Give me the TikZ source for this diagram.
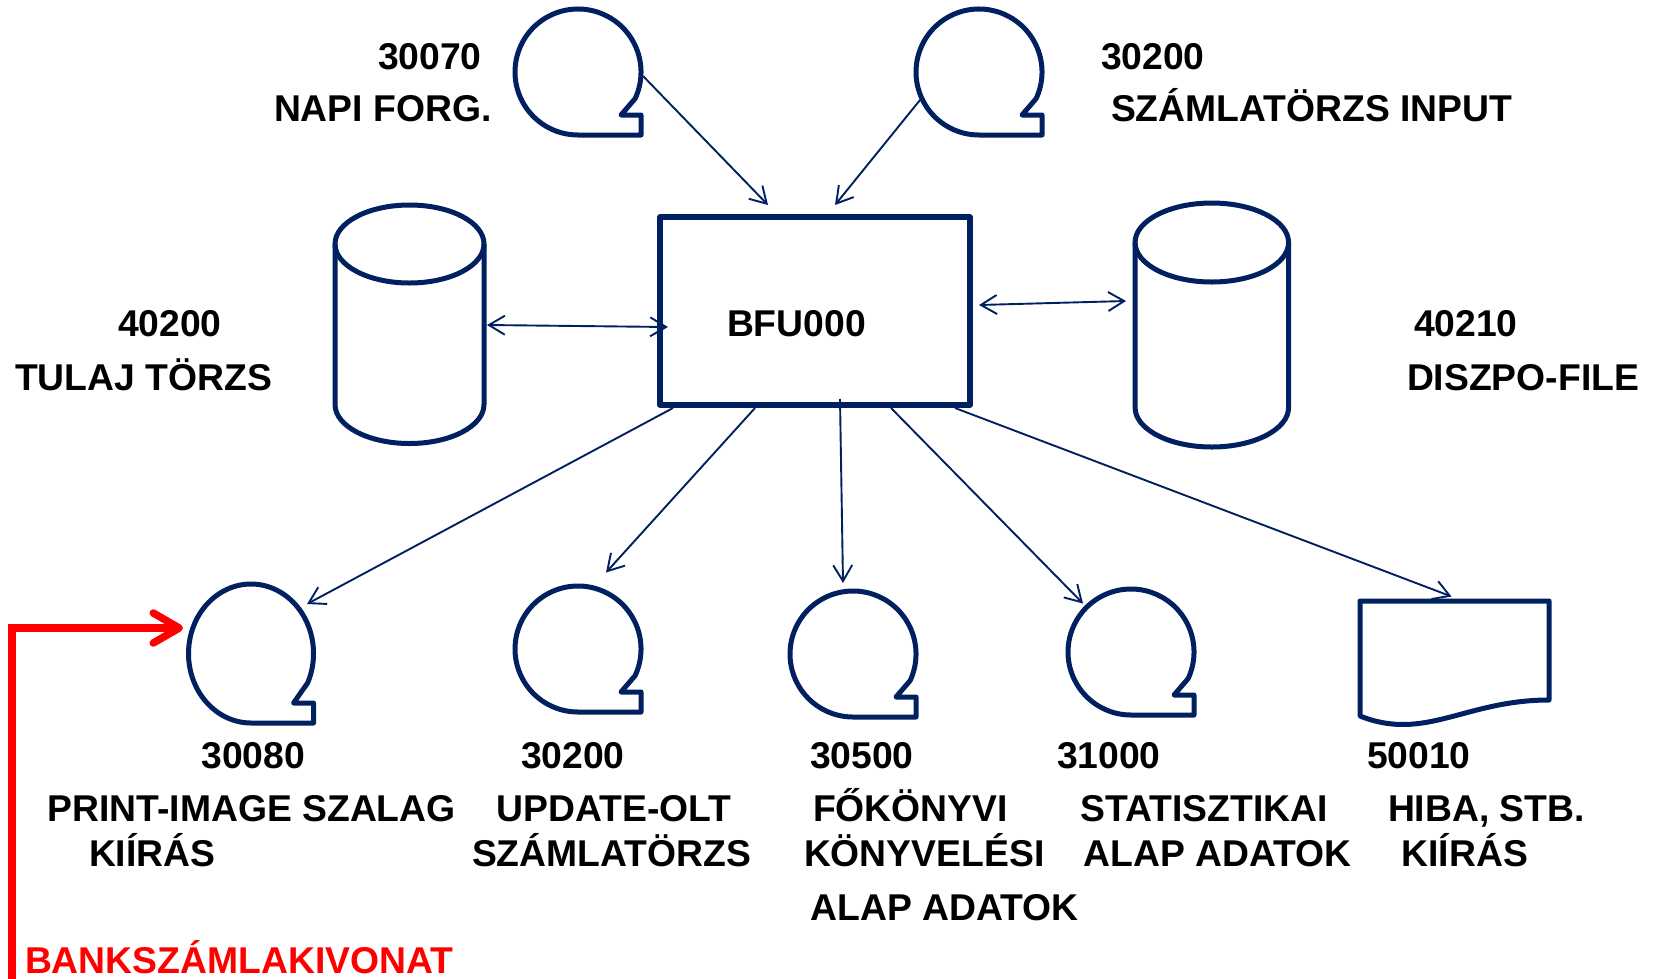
\documentclass[tikz,border=0pt]{standalone}
\usepackage{fontspec}
\setmainfont{Liberation Sans}
\usetikzlibrary{arrows.meta,calc,shapes.geometric}
\definecolor{navyblue}{HTML}{002060}
\newcommand\tapedraw[3]{%
  \draw[shapeline] ($(#1.center)+({#2*cos(-25)},{#3*sin(-25)})$)
    arc[start angle=-25,end angle=270,x radius=#2pt,y radius=#3pt]
    -- ++(#2,0) -- ++(0,20) -- ++(-20,0) -- cycle;}
\newcommand\cyldraw[3]{%
  \draw[shapeline] ($(#1.north)+(0,-#3)$) ellipse[x radius=#2pt,y radius=#3pt];
  \draw[shapeline] ($(#1.north west)+(0,-#3)$) -- ($(#1.south west)+(0,#3)$)
    arc[start angle=180,end angle=360,x radius=#2pt,y radius=#3pt]
    -- ($(#1.north east)+(0,-#3)$);}
\begin{document}
\begin{tikzpicture}[x=1pt,y=1pt,
  shapeline/.style={draw=navyblue,line width=5pt,line join=round},
  conn/.style={draw=navyblue,line width=1.9pt,-{Straight Barb[length=16pt,width=19pt]}},
  dconn/.style={draw=navyblue,line width=1.9pt,{Straight Barb[length=16pt,width=19pt]}-{Straight Barb[length=16pt,width=19pt]}},
  lbl/.style={anchor=base west,inner sep=0pt,outer sep=0pt,font=\fontsize{37.3}{40}\selectfont\bfseries,text=black},
  tapenode/.style={ellipse,draw=none,inner sep=0pt,outer sep=0pt},
  hold/.style={rectangle,draw=none,inner sep=0pt,outer sep=0pt},
  boxnode/.style={rectangle,draw=navyblue,line width=5.5pt,line join=round,inner sep=0pt,outer sep=0pt},
  redarrow/.style={draw=red,line width=7.5pt,-{Straight Barb[length=26pt,width=30pt,round]}},
]
\useasboundingbox (0,0) rectangle (1653,-978);

% tapes
\node[tapenode,minimum width=126pt,minimum height=126pt] (t1) at (578,-72) {};
\node[tapenode,minimum width=126pt,minimum height=126pt] (t2) at (979,-72) {};
\node[tapenode,minimum width=125pt,minimum height=139pt] (b1) at (251,-653.5) {};
\node[tapenode,minimum width=126pt,minimum height=126pt] (b2) at (578,-649) {};
\node[tapenode,minimum width=126pt,minimum height=126pt] (b3) at (853,-654) {};
\node[tapenode,minimum width=126pt,minimum height=126pt] (b4) at (1131,-652) {};
\tapedraw{t1}{63}{63}
\tapedraw{t2}{63}{63}
\tapedraw{b1}{62.5}{69.5}
\tapedraw{b2}{63}{63}
\tapedraw{b3}{63}{63}
\tapedraw{b4}{63}{63}

% cylinders
\node[hold,minimum width=149pt,minimum height=238.5pt] (cylL) at (409.5,-324.25) {};
\node[hold,minimum width=153.5pt,minimum height=244pt] (cylR) at (1211.8,-325) {};
\cyldraw{cylL}{74.5}{39}
\cyldraw{cylR}{76.75}{39.5}

% program box
\node[boxnode,minimum width=310pt,minimum height=188pt] (box) at (815,-311) {};

% document
\node[hold,minimum width=189pt,minimum height=115pt] (doc) at (1454.5,-658.5) {};
\draw[shapeline] (doc.north west) -- (doc.north east) -- ($(doc.south east)+(0,16)$)
  .. controls ($(doc.south east)+(-84,16)$) and ($(doc.south west)+(65,-26)$) .. (doc.south west) -- cycle;

% labels
\node[lbl] (l1a) at (378,-69) {30070};
\node[lbl] (l1b) at (274,-121) {NAPI FORG.};
\node[lbl] (l2a) at (1101,-69) {30200};
\node[lbl] (l2b) at (1111,-121) {SZÁMLATÖRZS INPUT};
\node[lbl] (l3a) at (118,-336.6) {40200};
\node[lbl] (l3b) at (15,-390.4) {TULAJ TÖRZS};
\node[lbl] (lbox) at (727,-336.7) {BFU000};
\node[lbl] (l4a) at (1414,-336.6) {40210};
\node[lbl] (l4b) at (1407,-390.4) {DISZPO-FILE};

\node[lbl] (n1) at (201.5,-768) {30080};
\node[lbl] (n2) at (521,-768) {30200};
\node[lbl] (n3) at (810,-768) {30500};
\node[lbl] (n4) at (1057,-768) {31000};
\node[lbl] (n5) at (1367,-768) {50010};

\node[lbl] (d1a) at (47.5,-821) {PRINT-IMAGE SZALAG};
\node[lbl] (d2a) at (496.5,-821) {UPDATE-OLT};
\node[lbl] (d3a) at (813,-821) {FŐKÖNYVI};
\node[lbl] (d4a) at (1080.5,-821) {STATISZTIKAI};
\node[lbl] (d5a) at (1388,-821) {HIBA, STB.};

\node[lbl] (d1b) at (89,-866) {KIÍRÁS};
\node[lbl] (d2b) at (472,-866) {SZÁMLATÖRZS};
\node[lbl] (d3b) at (804,-866) {KÖNYVELÉSI};
\node[lbl] (d4b) at (1083.5,-866) {ALAP ADATOK};
\node[lbl] (d5b) at (1401.5,-866) {KIÍRÁS};

\node[lbl] (d3c) at (810.7,-920) {ALAP ADATOK};

\node[lbl,text=red] (bank) at (25,-973) {BANKSZÁMLAKIVONAT};

% connectors
\draw[conn] ([shift={(65,-4)}]t1.center) -- ([xshift=-47pt,yshift=12pt]box.north);
\draw[conn] ([shift={(-59,-28)}]t2.center) -- ([xshift=20pt,yshift=12pt]box.north);
\draw[dconn] ([shift={(3,-0.75)}]cylL.east) -- ([shift={(8,-16)}]box.west);
\draw[dconn] ([shift={(9,6)}]box.east) -- ([shift={(-9,24)}]cylR.west);
\draw[conn] ([shift={(-142,-3)}]box.south) -- ([shift={(56,49.5)}]b1.center);
\draw[conn] ([shift={(-60,-3)}]box.south) -- ([shift={(28,76.5)}]b2.center);
\draw[conn] ([shift={(25,6)}]box.south) -- ([shift={(-10,71)}]b3.center);
\draw[conn] ([shift={(76,-3)}]box.south) -- ([shift={(-48,48.5)}]b4.center);
\draw[conn] ([shift={(140,-3)}]box.south) -- ([shift={(-3,4.5)}]doc.north);

% red arrow
\coordinate (redstart) at (12,-990);
\draw[redarrow] (redstart) |- ([shift={(-68,25.5)}]b1.center);
\end{tikzpicture}
\end{document}
